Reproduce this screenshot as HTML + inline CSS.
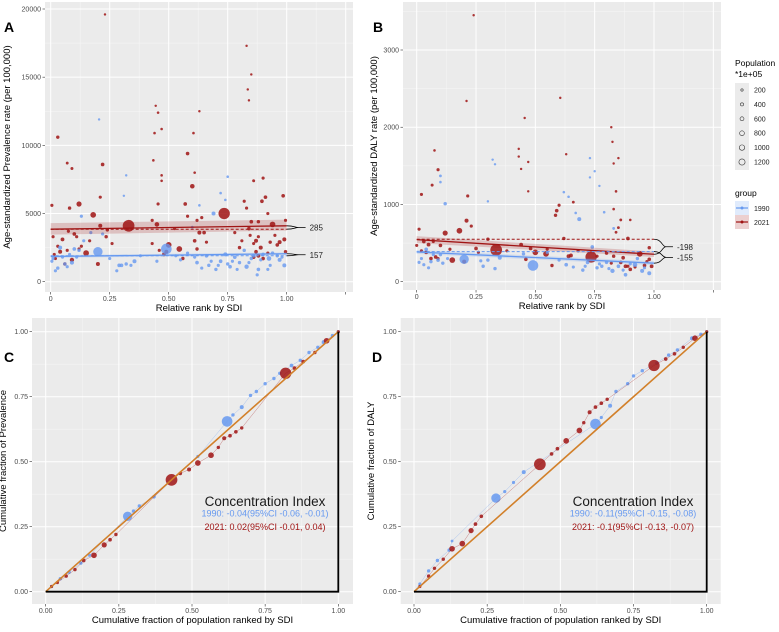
<!DOCTYPE html>
<html><head><meta charset="utf-8"><style>
body{margin:0;background:#fff;font-family:"Liberation Sans",sans-serif}
svg text{font-family:"Liberation Sans",sans-serif}
</style></head><body>
<svg id="s" width="779" height="627" xmlns="http://www.w3.org/2000/svg"></svg>
<script>
const BLUE='#6699f0', RED='#a01414';
// ---- Panel A data: [rank, rate, population*1e5]
const aRed=[[0.03,10600,30],[0.22,8600,40],[0.58,9400,40],[0.60,7000,100],[0.12,5700,150],[0.18,4900,200],[0.33,4100,1400],[0.735,5000,1300],[0.94,4200,200],[0.50,2700,200],[0.545,2400,200],[0.15,2100,200],[0.20,1300,60],[0.45,4200,100],[0.005,5600,20],[0.01,3300,20],[0.02,1700,20],[0.04,2200,60],[0.05,3100,50],[0.08,5400,30],[0.09,8300,15],[0.07,8700,10],[0.06,1300,30],[0.09,1600,80],[0.10,3500,40],[0.11,3300,20],[0.21,6200,20],[0.24,3800,30],[0.235,3300,30],[0.21,4100,60],[0.44,10900,5],[0.435,8900,5],[0.445,12900,3],[0.47,11200,5],[0.455,5700,20],[0.49,2200,60],[0.48,2000,50],[0.57,5700,40],[0.56,1700,30],[0.61,3000,40],[0.62,2400,30],[0.63,3600,60],[0.65,3600,40],[0.64,4700,20],[0.605,10900,5],[0.61,8000,5],[0.63,12500,3],[0.83,17300,3],[0.835,14100,3],[0.85,15200,3],[0.84,13300,3],[0.82,5900,20],[0.83,5400,20],[0.84,3900,40],[0.85,4400,40],[0.86,7400,15],[0.87,3000,60],[0.88,4400,30],[0.89,2500,60],[0.895,5900,40],[0.90,7600,20],[0.91,6200,40],[0.92,5000,20],[0.93,2900,30],[0.96,2700,40],[0.97,2900,60],[0.985,6300,40],[0.99,3100,60],[0.995,2200,30],[0.86,1800,40],[0.88,1900,50],[0.87,2200,40],[0.80,2500,30],[0.90,1700,40],[0.525,3900,20],[0.47,7800,5],[0.47,7400,5],[0.455,12400,5],[0.23,19600,3],[0.03,2600,20],[0.07,2300,20],[0.13,2600,20],[0.26,2800,20],[0.43,2800,20],[0.66,2900,20],[0.78,3600,20],[0.995,4500,20],[0.015,2000,20],[0.075,3700,20],[0.12,2400,20],[0.165,3000,20],[0.43,4500,20],[0.46,2300,20],[0.58,4800,20],[0.62,4500,20],[0.81,3000,20],[0.845,3400,20],[0.86,2800,20],[0.88,3300,20],[0.92,2100,20],[0.95,3400,20]];
const aBlue=[[0.20,2200,800],[0.49,2400,1100],[0.69,5000,60],[0.925,1700,100],[0.97,1600,60],[0.99,1200,60],[0.83,1100,80],[0.88,900,40],[0.875,500,20],[0.04,2500,60],[0.09,1400,60],[0.10,2400,40],[0.01,1700,20],[0.02,800,20],[0.03,1000,30],[0.06,1300,30],[0.12,2300,30],[0.13,4800,20],[0.29,1200,40],[0.30,1200,40],[0.32,1300,30],[0.355,1500,60],[0.28,800,20],[0.32,7800,3],[0.31,6300,3],[0.205,11900,3],[0.22,3500,20],[0.45,1500,20],[0.53,1900,20],[0.55,1600,20],[0.62,1400,40],[0.66,1900,40],[0.67,1200,30],[0.70,900,30],[0.72,1500,40],[0.74,2000,60],[0.75,1300,30],[0.76,1100,40],[0.78,1800,40],[0.80,1400,30],[0.82,2300,30],[0.85,1700,30],[0.86,1900,40],[0.90,2000,40],[0.94,2100,30],[0.96,1900,30],[0.75,7700,5],[0.72,6500,5],[0.74,6000,5],[0.63,5600,5],[0.60,4000,10],[0.17,3600,20],[0.14,3000,20],[0.05,1800,20],[0.08,2000,20],[0.38,1900,20],[0.58,2100,20],[0.64,1000,20],[0.92,900,20],[0.005,1500,20],[0.07,1100,20],[0.11,1800,20],[0.25,1700,20],[0.34,1200,20],[0.61,1800,20],[0.68,1500,20],[0.71,1200,20],[0.77,1500,20],[0.79,900,20],[0.84,1400,20],[0.89,1600,20],[0.93,1200,20],[0.98,1800,20]];
// trend lines: [value at rank 0, value at rank 1]
const aRedFit=[3850,4100], aRedFlat=[3850,3850], aRedCI=[[3450,4300],[3750,4550]];
const aBlueFit=[1850,2050], aBlueFlat=[1900,1900], aBlueCI=[[1750,1950],[1950,2150]];
const aLabels=['285','157'];
const aTicksX=['0','0.25','0.50','0.75','1.00'], aTicksY=['0','5000','10000','15000','20000'];
// ---- Panel B data
const bRed=[[0.335,410,1400],[0.735,320,1300],[0.12,630,150],[0.18,660,200],[0.21,790,60],[0.15,280,200],[0.20,260,60],[0.50,380,200],[0.545,360,200],[0.94,360,200],[0.59,920,40],[0.585,860,30],[0.60,990,20],[0.02,1130,20],[0.09,1450,20],[0.065,1250,15],[0.075,1700,5],[0.215,1110,20],[0.24,3450,3],[0.21,2340,3],[0.605,2380,3],[0.455,2120,3],[0.43,1720,3],[0.43,1620,3],[0.44,1460,3],[0.47,1550,3],[0.47,1170,3],[0.63,1650,3],[0.82,2000,3],[0.825,1810,3],[0.83,1530,3],[0.85,1600,3],[0.84,1170,5],[0.83,940,5],[0.86,800,10],[0.89,560,40],[0.90,800,5],[0.85,700,10],[0.84,640,10],[0.98,440,30],[0.98,290,40],[0.99,200,50],[0.96,210,40],[0.90,160,40],[0.88,200,50],[0.86,250,40],[0.87,310,40],[0.80,370,30],[0.83,330,30],[0.03,520,40],[0.05,480,50],[0.06,300,40],[0.08,320,40],[0.04,380,40],[0.10,470,40],[0.0,470,20],[0.01,680,20],[0.25,430,40],[0.23,720,20],[0.44,480,50],[0.46,290,40],[0.57,210,30],[0.62,560,30],[0.64,330,60],[0.65,340,50],[0.66,1030,10],[0.48,430,40],[0.30,550,30],[0.02,400,20],[0.07,520,20],[0.09,300,20],[0.14,420,20],[0.26,380,20],[0.38,400,20],[0.55,420,20],[0.68,400,20],[0.76,330,20],[0.82,240,20],[0.89,200,20],[0.92,190,20],[0.97,260,20]];
const bBlue=[[0.20,290,800],[0.49,210,1100],[0.685,810,60],[0.12,1010,30],[0.10,1370,10],[0.10,1290,5],[0.30,1040,3],[0.32,1580,3],[0.33,1520,3],[0.73,1600,3],[0.73,1350,3],[0.75,1430,3],[0.77,1240,3],[0.62,1160,5],[0.64,1100,5],[0.92,220,100],[0.95,140,60],[0.98,110,60],[0.825,140,80],[0.88,90,40],[0.85,200,40],[0.78,200,30],[0.76,180,30],[0.72,250,40],[0.74,450,40],[0.63,220,40],[0.35,310,60],[0.33,170,30],[0.28,200,30],[0.30,280,30],[0.02,300,20],[0.03,220,20],[0.04,420,40],[0.06,260,30],[0.09,280,40],[0.05,180,20],[0.10,350,30],[0.11,240,30],[0.45,360,30],[0.55,380,20],[0.70,150,30],[0.80,250,30],[0.93,300,30],[0.67,890,5],[0.79,900,5],[0.83,690,10],[0.01,250,20],[0.07,350,20],[0.13,300,20],[0.27,270,20],[0.60,280,20],[0.66,190,20],[0.71,200,20],[0.77,230,20],[0.81,170,20],[0.87,150,20],[0.90,230,20],[0.96,180,20]];
const bRedFit=[545,355], bRedFlat=[550,550], bRedCI=[[500,590],[320,390]];
const bBlueFit=[385,240], bBlueFlat=[390,390], bBlueCI=[[360,410],[215,265]];
const bLabels=['-198','-155'];
const bTicksX=['0','0.25','0.50','0.75','1.00'], bTicksY=['0','1000','2000','3000'];
// ---- Panel C / D: [cum pop, cum burden, population]
const cBlue=[[0,0,0],[0.02,0.02,20],[0.05,0.05,30],[0.08,0.075,30],[0.12,0.11,30],[0.15,0.14,20],[0.28,0.29,800],[0.30,0.31,30],[0.32,0.33,30],[0.37,0.365,40],[0.52,0.52,20],[0.62,0.655,1100],[0.64,0.68,30],[0.67,0.71,60],[0.70,0.755,30],[0.72,0.77,30],[0.75,0.80,30],[0.78,0.82,30],[0.80,0.84,30],[0.84,0.87,40],[0.87,0.89,30],[0.90,0.92,30],[0.93,0.94,30],[0.95,0.96,60],[0.98,0.985,30],[1,1,20]];
const cRed=[[0,0,0],[0.02,0.02,20],[0.04,0.035,20],[0.07,0.06,30],[0.10,0.085,30],[0.13,0.12,40],[0.165,0.14,200],[0.20,0.18,150],[0.22,0.20,40],[0.24,0.22,30],[0.43,0.43,1400],[0.46,0.455,40],[0.49,0.47,60],[0.52,0.495,200],[0.565,0.525,200],[0.59,0.555,30],[0.61,0.59,60],[0.63,0.60,40],[0.65,0.615,40],[0.67,0.63,30],[0.82,0.84,1300],[0.85,0.86,40],[0.88,0.885,40],[0.92,0.92,30],[0.96,0.965,200],[1,1,20]];
const dBlue=[[0,0,0],[0.02,0.03,20],[0.05,0.08,30],[0.08,0.12,30],[0.12,0.16,30],[0.13,0.195,10],[0.28,0.36,800],[0.31,0.385,20],[0.34,0.42,20],[0.375,0.46,60],[0.62,0.645,1100],[0.64,0.67,20],[0.67,0.715,60],[0.69,0.77,30],[0.73,0.80,30],[0.75,0.83,30],[0.78,0.85,30],[0.83,0.88,40],[0.87,0.91,30],[0.90,0.93,30],[0.95,0.975,60],[0.98,0.99,30],[1,1,20]];
const dRed=[[0,0,0],[0.02,0.02,20],[0.05,0.06,30],[0.07,0.09,30],[0.10,0.125,30],[0.13,0.165,200],[0.165,0.185,200],[0.195,0.235,150],[0.21,0.26,40],[0.23,0.29,40],[0.43,0.49,1400],[0.47,0.53,40],[0.49,0.55,40],[0.52,0.58,200],[0.565,0.62,200],[0.58,0.65,30],[0.60,0.69,60],[0.62,0.71,40],[0.64,0.725,40],[0.66,0.74,30],[0.82,0.87,1300],[0.86,0.895,40],[0.89,0.915,40],[0.92,0.94,30],[0.96,0.975,200],[1,1,20]];
const cdTicks=['0.00','0.25','0.50','0.75','1.00'];
const cText=['1990: -0.04(95%CI -0.06, -0.01)','2021: 0.02(95%CI -0.01, 0.04)'];
const dText=['1990: -0.11(95%CI -0.15, -0.08)','2021: -0.1(95%CI -0.13, -0.07)'];
const legendSizes=['200','400','600','800','1000','1200'];

const S=document.getElementById('s'), NS='http://www.w3.org/2000/svg';
function el(tag,attrs,parent,txt){const e=document.createElementNS(NS,tag);for(const k in attrs)e.setAttribute(k,attrs[k]);if(txt!==undefined)e.textContent=txt;(parent||S).appendChild(e);return e;}
function rad(p){return 1.0+Math.sqrt(p)*0.13;}

function panel(cfg){
  const g=el('g',{});
  
  
  const X=v=>cfg.x0+(v-cfg.xmin)/(cfg.xmax-cfg.xmin)*(cfg.x1-cfg.x0);
  const Y=v=>cfg.y0-(v-cfg.ymin)/(cfg.ymax-cfg.ymin)*(cfg.y0-cfg.y1);
  const bg=el('rect',{x:cfg.bx0,y:cfg.by0,width:cfg.bx1-cfg.bx0,height:cfg.by1-cfg.by0,fill:'#ebebeb'},g);
  
  cfg.xminor.forEach(v=>el('line',{x1:X(v),x2:X(v),y1:cfg.by0,y2:cfg.by1,stroke:'#f7f7f7','stroke-width':0.5},g));
  cfg.yminor.forEach(v=>el('line',{x1:cfg.bx0,x2:cfg.bx1,y1:Y(v),y2:Y(v),stroke:'#f7f7f7','stroke-width':0.5},g));
  cfg.xt.forEach((t,i)=>{const v=cfg.xtv[i];el('line',{x1:X(v),x2:X(v),y1:cfg.by0,y2:cfg.by1,stroke:'#fff','stroke-width':1},g);
    el('line',{x1:X(v),x2:X(v),y1:cfg.by1,y2:cfg.by1+2.5,stroke:'#333','stroke-width':0.6},g);
    const tx=el('text',{x:X(v),y:cfg.by1+9,'font-size':7,fill:'#4d4d4d','text-anchor':'middle'},g,t);});
  if(cfg.xextra!==undefined){el('line',{x1:X(cfg.xextra),x2:X(cfg.xextra),y1:cfg.by0,y2:cfg.by1,stroke:'#fff','stroke-width':1},g);el('line',{x1:X(cfg.xextra),x2:X(cfg.xextra),y1:cfg.by1,y2:cfg.by1+2.5,stroke:'#333','stroke-width':0.6},g);}
  cfg.yt.forEach((t,i)=>{const v=cfg.ytv[i];el('line',{x1:cfg.bx0,x2:cfg.bx1,y1:Y(v),y2:Y(v),stroke:'#fff','stroke-width':1},g);
    el('line',{x1:cfg.bx0-2.5,x2:cfg.bx0,y1:Y(v),y2:Y(v),stroke:'#333','stroke-width':0.6},g);
    const ty=el('text',{x:cfg.bx0-4,y:Y(v)+2.5,'font-size':7,fill:'#4d4d4d','text-anchor':'end'},g,t);});
  const xt=el('text',{x:(cfg.bx0+cfg.bx1)/2,y:cfg.by1+19,'font-size':9.5,fill:'#000','text-anchor':'middle'},g,cfg.xtitle);
  
  const yc=(cfg.by0+cfg.by1)/2;
  const yt=el('text',{x:cfg.ytx,y:yc,'font-size':9.5,fill:'#000','text-anchor':'middle',transform:`rotate(-90 ${cfg.ytx} ${yc})`},g,cfg.ytitle);
  
  const lt=el('text',{x:cfg.lx,y:cfg.ly,'font-size':14,'font-weight':'bold',fill:'#000'},g,cfg.letter);
  
  return {g,X,Y};
}
function dots(g,X,Y,data,col,name,op){data.forEach(d=>{if(d[2]<=0)return;const c=el('circle',{cx:X(d[0]),cy:Y(d[1]),r:rad(d[2]),fill:col,'fill-opacity':op},g);
  });}

function scatterPanel(cfg,red,blue,rf,rfl,rci,bf,bfl,bci,labels){
  const {g,X,Y}=panel(cfg);
  dots(g,X,Y,red,RED,'point-2021',0.85);
  dots(g,X,Y,blue,BLUE,'point-1990',0.8);
  [[rci,RED],[bci,BLUE]].forEach(([ci,c])=>{const b=el('polygon',{points:`${X(0)},${Y(ci[0][0])} ${X(1)},${Y(ci[1][0])} ${X(1)},${Y(ci[1][1])} ${X(0)},${Y(ci[0][1])}`,fill:c,'fill-opacity':0.2},g);
    });
  [[rf,rfl,RED,'fit-line-2021'],[bf,bfl,BLUE,'fit-line-1990']].forEach(([f,fl,c,n],i)=>{
    const l=el('line',{x1:X(0),y1:Y(f[0]),x2:X(1),y2:Y(f[1]),stroke:c,'stroke-width':1.3},g);
    const d=el('line',{x1:X(0),y1:Y(fl[0]),x2:X(1),y2:Y(fl[1]),stroke:c,'stroke-width':1,'stroke-dasharray':'3,2'},g);
    const ya=Y(fl[1]), yb=Y(f[1]), xm=X(1.08), xs=X(1.0);
    const top=Math.min(ya,yb), bot=Math.max(ya,yb), mid=(ya+yb)/2;
    const br=el('path',{d:`M${xs},${top} C${xs+8},${top} ${xs+8},${mid} ${xs+12},${mid} L${xm},${mid} M${xs},${bot} C${xs+8},${bot} ${xs+8},${mid} ${xs+12},${mid}`,fill:'none',stroke:'#000','stroke-width':0.8},g);
    
    const t=el('text',{x:xm+4,y:mid+3,'font-size':8,fill:'#222'},g,labels[i]);
  });
}
scatterPanel({name:'panel-a',bx0:45,bx1:353,by0:2,by1:292,x0:50.7,x1:286.7,xmin:0,xmax:1,y0:281.7,y1:9,ymin:0,ymax:20000,
  xt:aTicksX,xtv:[0,0.25,0.5,0.75,1],xextra:1.25,xminor:[0.125,0.375,0.625,0.875,1.125],yt:aTicksY,ytv:[0,5000,10000,15000,20000],yminor:[2500,7500,12500,17500],
  xtitle:'Relative rank by SDI',ytitle:'Age-standardized Prevalence rate (per 100,000)',ytx:10,letter:'A',lx:4,ly:32},aRed,aBlue,aRedFit,aRedFlat,aRedCI,aBlueFit,aBlueFlat,aBlueCI,aLabels);
scatterPanel({name:'panel-b',bx0:403,bx1:721,by0:2,by1:290,x0:416.7,x1:654,xmin:0,xmax:1,y0:281.7,y1:50,ymin:0,ymax:3000,
  xt:bTicksX,xtv:[0,0.25,0.5,0.75,1],xextra:1.25,xminor:[0.125,0.375,0.625,0.875,1.125],yt:bTicksY,ytv:[0,1000,2000,3000],yminor:[500,1500,2500,3500],
  xtitle:'Relative rank by SDI',ytitle:'Age-standardized DALY rate (per 100,000)',ytx:377,letter:'B',lx:373,ly:32},bRed,bBlue,bRedFit,bRedFlat,bRedCI,bBlueFit,bBlueFlat,bBlueCI,bLabels);

function curvePanel(cfg,blue,red,txt){
  const {g,X,Y}=panel(cfg);
  [[blue,BLUE,'curve-1990'],[red,RED,'curve-2021']].forEach(([d,c,n])=>{
    const p=el('polyline',{points:d.map(q=>X(q[0])+','+Y(q[1])).join(' '),fill:'none',stroke:c,'stroke-width':0.5,'stroke-opacity':0.5},g);
    
    dots(g,X,Y,d,c,n+'-point',0.85);
  });
  const dg=el('line',{x1:X(0),y1:Y(0),x2:X(1),y2:Y(1),stroke:'#d2802a','stroke-width':1.6},g);
  const tri=el('polyline',{points:`${X(0)},${Y(0)} ${X(1)},${Y(0)} ${X(1)},${Y(1)}`,fill:'none',stroke:'#000','stroke-width':1.8},g);
  const t0=el('text',{x:cfg.tx,y:506,'font-size':13.5,fill:'#1a1a1a','text-anchor':'middle'},g,'Concentration Index');
  const t1=el('text',{x:cfg.tx,y:516.5,'font-size':9,fill:BLUE,'text-anchor':'middle'},g,txt[0]);
  const t2=el('text',{x:cfg.tx,y:530,'font-size':9,fill:RED,'text-anchor':'middle'},g,txt[1]);
}
const tv=[0,0.25,0.5,0.75,1], mn=[0.125,0.375,0.625,0.875];
curvePanel({name:'panel-c',bx0:32,bx1:353,by0:318,by1:604,x0:45.7,x1:338.3,xmin:0,xmax:1,y0:591.7,y1:331.7,ymin:0,ymax:1,
  xt:cdTicks,xtv:tv,xminor:mn,yt:cdTicks,ytv:tv,yminor:mn,xtitle:'Cumulative fraction of population ranked by SDI',ytitle:'Cumulative fraction of Prevalence',ytx:6,letter:'C',lx:4,ly:362,tx:265},cBlue,cRed,cText);
curvePanel({name:'panel-d',bx0:400.7,bx1:720.7,by0:318,by1:604,x0:414,x1:706.7,xmin:0,xmax:1,y0:591.7,y1:331.7,ymin:0,ymax:1,
  xt:cdTicks,xtv:tv,xminor:mn,yt:cdTicks,ytv:tv,yminor:mn,xtitle:'Cumulative fraction of population ranked by SDI',ytitle:'Cumulative fraction of DALY',ytx:374,letter:'D',lx:372,ly:362,tx:633},dBlue,dRed,dText);

// legend
const lg=el('g',{});


el('text',{x:735,y:66,'font-size':8.5,fill:'#000'},lg,'Population');
el('text',{x:735,y:77,'font-size':8.5,fill:'#000'},lg,'*1e+05');
el('rect',{x:735,y:83,width:14,height:87,fill:'#ebebeb'},lg);
legendSizes.forEach((s,i)=>{const y=90+i*14.4;const c=el('circle',{cx:742,cy:y,r:1.2+i*0.38,fill:'none',stroke:'#333','stroke-width':0.6},lg);
  
  el('text',{x:754,y:y+2.5,'font-size':7,fill:'#222'},lg,s);});
el('text',{x:735,y:196,'font-size':8.5,fill:'#000'},lg,'group');
[['1990',BLUE,201],['2021',RED,215]].forEach(([t,c,y])=>{
  const k=el('g',{},lg);
  el('rect',{x:735,y:y,width:14,height:14,fill:c,'fill-opacity':0.2},k);
  el('line',{x1:736,x2:748,y1:y+7,y2:y+7,stroke:c,'stroke-width':1.2},k);
  el('circle',{cx:742,cy:y+7,r:1.5,fill:c},k);
  el('text',{x:754,y:y+10,'font-size':7,fill:'#222'},k,t);});
</script>
</body></html>
